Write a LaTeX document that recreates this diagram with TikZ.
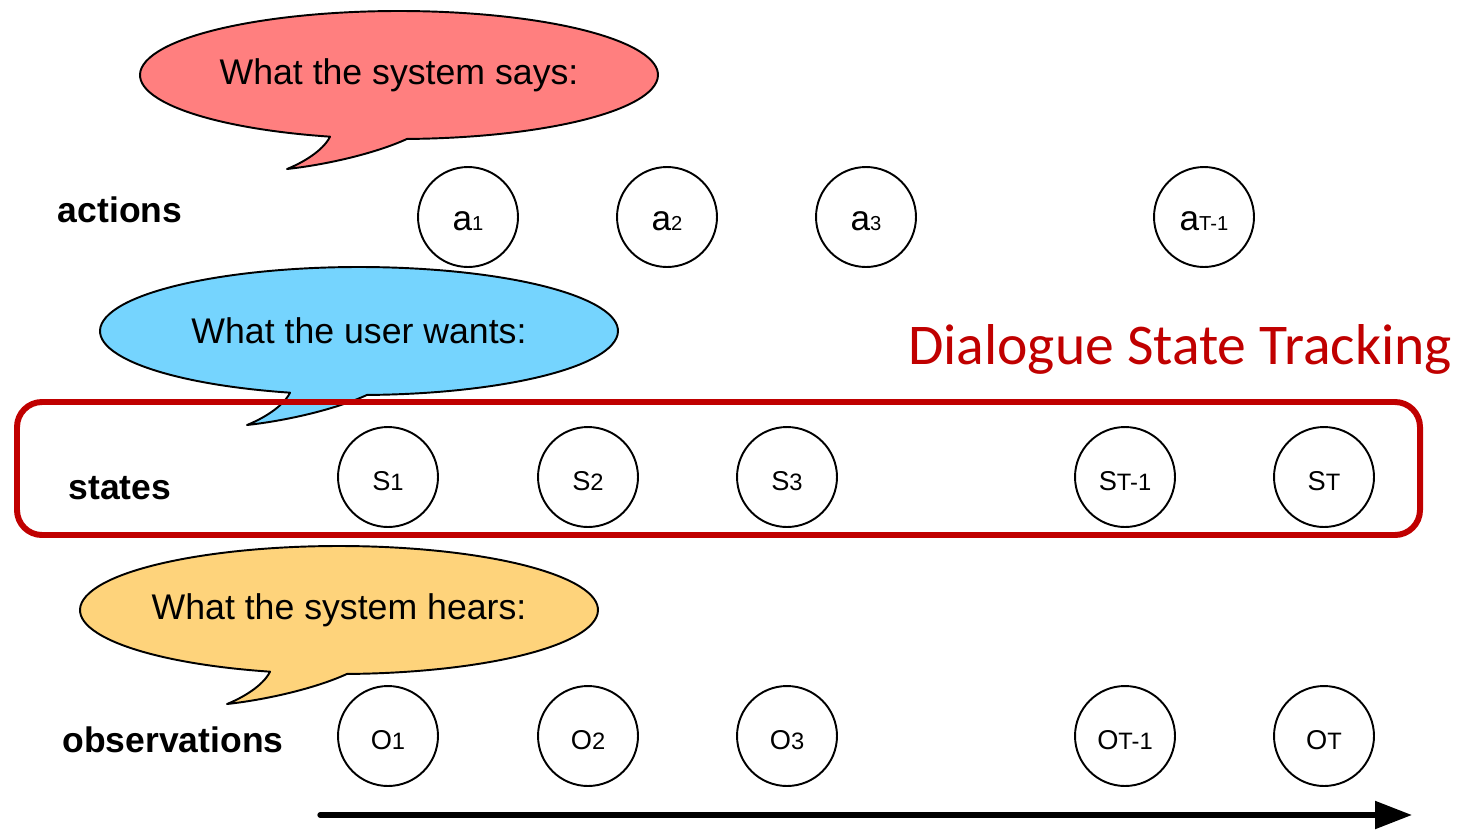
\documentclass[tikz,border=0pt]{standalone}
\usepackage{fontspec}
\setmainfont{Liberation Sans}
\newfontfamily\titlefont{Carlito}
\usetikzlibrary{arrows.meta}

\definecolor{saycol}{HTML}{FF7F7F}
\definecolor{wantcol}{HTML}{75D4FE}
\definecolor{hearcol}{HTML}{FED37B}
\definecolor{dstred}{HTML}{C00000}

% variable label: large letter followed by a smaller index on the same baseline
\newcommand\actlabel[1]{{\fontsize{20}{22}\selectfont a}{\fontsize{11.5}{13}\selectfont #1}}
\newcommand\stlabel[2]{{\fontsize{15.5}{17}\selectfont #1}{\fontsize{13.5}{15}\selectfont #2}}

% speech bubble centred at (#1,#2): ellipse with a tail pointing down-left
\newcommand\speechbubble[5]{%
  \begin{scope}[shift={(#1,#2)}]
    \draw[bubble, fill=#3] (254.55:5.18cm and 1.28cm)
      arc[start angle=254.55, end angle=-88.23, x radius=5.18cm, y radius=1.28cm]
      .. controls (-25,79) and (-75,90) .. (-112,94)
      .. controls (-97,88) and (-76,76) .. (254.55:5.18cm and 1.28cm) -- cycle;
    \node[bubbletext] (#4) at (0,0) {#5};
  \end{scope}}

\begin{document}
\begin{tikzpicture}[x=0.02cm, y=-0.02cm,
  bubble/.style={draw=black, line width=1.1pt, line join=round},
  bubbletext/.style={font=\fontsize{20.3}{24}\selectfont, inner sep=0pt},
  var/.style={circle, draw=black, line width=1.1pt, minimum size=2cm, inner sep=0pt,
    text height=0.52cm, text depth=0pt},
  rowlabel/.style={font=\bfseries\fontsize{20.2}{24}\selectfont, inner sep=0pt},
  trackbox/.style={draw=dstred, line width=3.4pt, rounded corners=0.5cm},
  timearrow/.style={line width=3pt, line cap=round, -{Triangle[length=0.74cm, width=0.54cm]}}]

\useasboundingbox (0,0) rectangle (1460,829);

% bubbles
\speechbubble{399}{75}{saycol}{says}{What the system says:}
\speechbubble{359}{331}{wantcol}{wants}{What the user wants:}
\speechbubble{339}{610}{hearcol}{hears}{What the system hears:}

% dialogue state tracking frame around the states row
\draw[trackbox] (17,402) rectangle (1420,535);
\node[font=\titlefont\fontsize{32.8}{36}\selectfont, text=dstred, anchor=base, inner sep=0pt]
  (dst) at (1180,364) {Dialogue State Tracking};

% row labels
\node[rowlabel] (lact) at (120,210) {actions};
\node[rowlabel] (lst) at (120,488) {states};
\node[rowlabel] (lobs) at (173,740) {observations};

% actions
\node[var] (a1) at (468,217) {\actlabel{1}};
\node[var] (a2) at (667,217) {\actlabel{2}};
\node[var] (a3) at (866,217) {\actlabel{3}};
\node[var] (aT) at (1204,217) {\actlabel{T-1}};

% states
\node[var] (s1) at (388,477) {\stlabel{S}{1}};
\node[var] (s2) at (588,477) {\stlabel{S}{2}};
\node[var] (s3) at (787,477) {\stlabel{S}{3}};
\node[var] (sTm) at (1125,477) {\stlabel{S}{T-1}};
\node[var] (sT) at (1324,477) {\stlabel{S}{T}};

% observations
\node[var] (o1) at (388,736) {\stlabel{O}{1}};
\node[var] (o2) at (588,736) {\stlabel{O}{2}};
\node[var] (o3) at (787,736) {\stlabel{O}{3}};
\node[var] (oTm) at (1125,736) {\stlabel{O}{T-1}};
\node[var] (oT) at (1324,736) {\stlabel{O}{T}};

% time axis
\coordinate (tstart) at (320,815);
\coordinate (tend) at (1412,815);
\draw[timearrow] (tstart) -- (tend);
\end{tikzpicture}
\end{document}
